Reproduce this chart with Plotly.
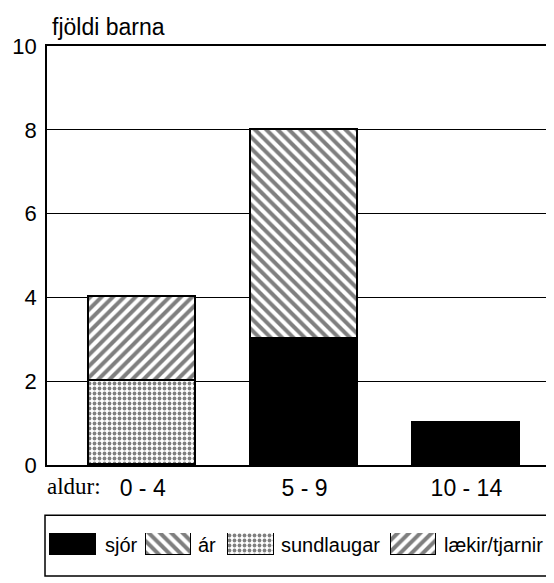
import plotly.graph_objects as go

# ---- data ----
categories = ["0 - 4", "5 - 9", "10 - 14"]
series_names = ["sjór", "ár", "sundlaugar", "lækir/tjarnir"]
sjor = [None, 3, 1]
ar = [None, 5, None]
sundlaugar = [2, None, None]
laekir = [2, None, None]
y_ticks = [0, 2, 4, 6, 8, 10]

# ---- layout constants ----
W, H = 554, 583
ML, MR, MT, MB = 39, 2, 38, 3
PW, PH = W - ML - MR, H - MT - MB


def px(x):
    return (x - ML) / PW


def py(y):
    return (H - MB - y) / PH


SANS = "Liberation Sans, Arial, sans-serif"
SERIF = "Liberation Serif, Times New Roman, serif"

styles = {
    "sjór": dict(color="black"),
    "ár": dict(color="white", pattern=dict(shape="\\", fgcolor="black", bgcolor="white", size=8, solidity=0.5)),
    "sundlaugar": dict(color="white", pattern=dict(shape=".", fgcolor="black", bgcolor="white", size=5, solidity=0.45)),
    "lækir/tjarnir": dict(color="white", pattern=dict(shape="/", fgcolor="black", bgcolor="white", size=8, solidity=0.5)),
}

values = {"sjór": sjor, "ár": ar, "sundlaugar": sundlaugar, "lækir/tjarnir": laekir}
stack_order = ["sjór", "sundlaugar", "ár", "lækir/tjarnir"]

fig = go.Figure()
for name in stack_order:
    st = styles[name]
    fig.add_trace(go.Bar(
        x=categories, y=values[name], name=name, width=0.66,
        marker=dict(line=dict(color="black", width=1.6), **st),
        showlegend=False, xaxis="x", yaxis="y",
    ))

# legend swatches drawn as unit bars on a small helper axis (pixel-coordinate x axis)
swatch_x = [65, 161, 243.5, 407]
label_x = [95, 189, 272, 436]
for name, sx in zip(series_names, swatch_x):
    st = styles[name]
    fig.add_trace(go.Bar(
        x=[sx], y=[1], width=46, name=name,
        marker=dict(line=dict(color="black", width=1.2), **st),
        showlegend=False, xaxis="x2", yaxis="y2", hoverinfo="skip",
    ))

annotations = [
    dict(text="fjöldi barna", x=px(42), y=py(19), xref="paper", yref="paper",
         xanchor="left", yanchor="middle", showarrow=False,
         font=dict(family=SANS, size=23, color="black")),
    dict(text="aldur:", x=px(37), y=py(488.5), xref="paper", yref="paper",
         xanchor="left", yanchor="middle", showarrow=False,
         font=dict(family=SERIF, size=23, color="black")),
]
for name, lx in zip(series_names, label_x):
    annotations.append(dict(text=name, x=px(lx), y=py(548), xref="paper", yref="paper",
                            xanchor="left", yanchor="middle", showarrow=False,
                            font=dict(family=SANS, size=20, color="black")))

fig.update_layout(
    width=W, height=H,
    margin=dict(l=ML, r=MR, t=MT, b=MB, pad=0),
    paper_bgcolor="white", plot_bgcolor="white",
    barmode="stack", bargap=0,
    xaxis=dict(domain=[0, 1], anchor="y", type="category", range=[-0.591, 2.566],
               showline=True, linecolor="black", linewidth=1.6, mirror=True,
               showgrid=False, ticks="", ticklabelstandoff=2,
               tickfont=dict(family=SANS, size=23, color="black")),
    yaxis=dict(domain=[py(466.5), 1], anchor="x", range=[0, 10], tickvals=y_ticks,
               showline=True, linecolor="black", linewidth=1.6, mirror=True,
               showgrid=True, gridcolor="black", gridwidth=1.1, zeroline=False,
               ticks="", ticklabelstandoff=4,
               tickfont=dict(family=SANS, size=22, color="black")),
    xaxis2=dict(domain=[0, 1], anchor="y2", range=[ML, W - MR], visible=False),
    yaxis2=dict(domain=[py(559), py(536)], anchor="x2", range=[0, 1], visible=False),
    annotations=annotations,
    shapes=[dict(type="rect", xref="paper", yref="paper", x0=px(37), x1=px(551), y0=py(580), y1=py(518),
                 line=dict(color="black", width=1.5), fillcolor="rgba(0,0,0,0)")],
    showlegend=False,
)

fig.write_html("out.html")
